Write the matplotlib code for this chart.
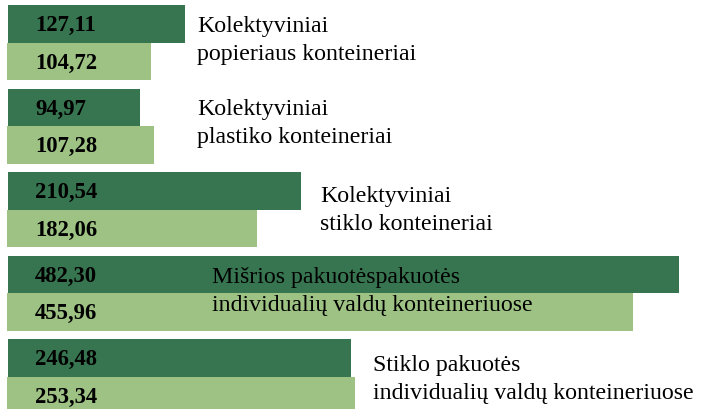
import matplotlib
matplotlib.use('Agg')
import matplotlib.pyplot as plt
import numpy as np

# data
categories = ['Kolektyviniai\npopieriaus konteineriai',
              'Kolektyviniai\nplastiko konteineriai',
              'Kolektyviniai\nstiklo konteineriai',
              'Mišrios pakuotėspakuotės\nindividualių valdų konteineriuose',
              'Stiklo pakuotės\nindividualių valdų konteineriuose']
dark_vals = [127.11, 94.97, 210.54, 482.30, 246.48]
light_vals = [104.72, 107.28, 182.06, 455.96, 253.34]

# where the category text sits (x in pixels, y shift in group units)
label_px = [197, 197, 320, 212, 373]
label_dy = [-0.036, -0.048, 0.0, -0.036, 0.024]

dark = '#36754f'
light = '#9dc283'

plt.rcParams['font.family'] = ['Liberation Serif', 'DejaVu Serif']

fig = plt.figure(figsize=(7.05, 4.1), dpi=100)
ax = fig.add_axes([0, 0, 1, 1])
# the light bars in the original are drawn on a slightly different scale
ax2 = ax.twiny()

y = np.arange(len(categories))
h = 0.449
ax.barh(y - h/2, dark_vals, height=h, color=dark)
ax2.barh(y + h/2, light_vals, height=h, color=light)

def fmt(v):
	return ('%.2f' % v).replace('.', ',')

# text placed in pixel-based x, data y
tr = matplotlib.transforms.blended_transform_factory(
	matplotlib.transforms.IdentityTransform(), ax2.transData)

for i in range(len(categories)):
	ax2.text(35 * fig.dpi / 100, y[i] - h/2 + 0.01, fmt(dark_vals[i]), transform=tr,
	         va='center', ha='left', fontsize=16.3, fontweight='bold', color='black')
	ax2.text(35 * fig.dpi / 100, y[i] + h/2 + 0.01, fmt(light_vals[i]), transform=tr,
	         va='center', ha='left', fontsize=16.3, fontweight='bold', color='black')
	ax2.text(label_px[i], y[i] + label_dy[i], categories[i], transform=tr,
	         va='center', ha='left', fontsize=17.2, color='black', linespacing=1.45)

ax.set_xlim(-8 / 1.392, 697 / 1.392)
ax2.set_xlim(-7 / 1.373, 698 / 1.373)
ax.set_ylim(4.387, -0.523)
ax.axis('off')
ax2.axis('off')

fig.savefig('out.png', dpi=100)
